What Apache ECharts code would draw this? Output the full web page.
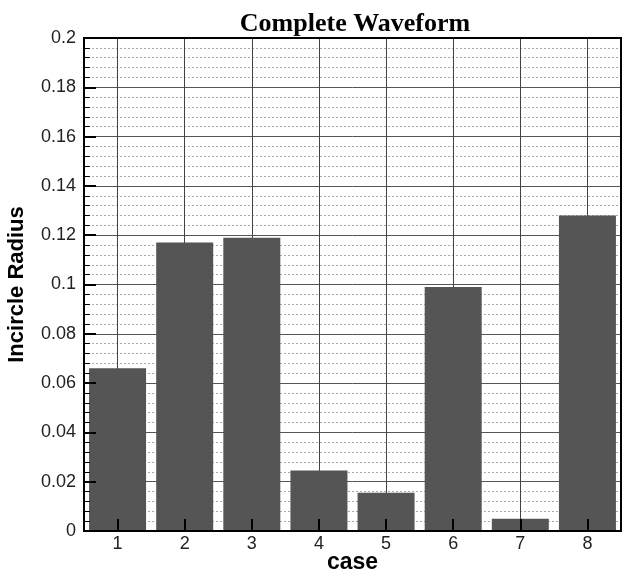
<!DOCTYPE html>
<html>
<head>
<meta charset="utf-8">
<script src="https://cdn.jsdelivr.net/npm/echarts@6/dist/echarts.min.js"></script>
<style>html,body{margin:0;padding:0;background:#fff;}#c{width:623px;height:575px;}</style>
</head>
<body>
<div id="c"></div>
<script>
var categories = ['1','2','3','4','5','6','7','8'];
var values = [0.066, 0.117, 0.119, 0.0245, 0.0155, 0.099, 0.005, 0.128];
var yTicks = {min: 0, max: 0.2, interval: 0.02};
var titleText = 'Complete Waveform';
var xName = 'case';
var yName = 'Incircle Radius';

var labelFont = {fontFamily: 'Liberation Sans', fontSize: 18, color: '#222'};

var chart = echarts.init(document.getElementById('c'));
chart.setOption({
  animation: false,
  backgroundColor: '#fff',
  title: {
    text: titleText,
    left: 350, top: 6,
    textAlign: 'center',
    textStyle: {fontFamily: 'Liberation Serif', fontWeight: 'bold', fontSize: 26, color: '#000'}
  },
  grid: {left: 84, right: 2, top: 38, bottom: 44, outerBoundsMode: 'none', containLabel: false,
         show: true, borderColor: '#000', borderWidth: 2, backgroundColor: 'transparent', z: 12},
  xAxis: [{
    type: 'category',
    data: categories,
    position: 'bottom',
    axisLine: {show: false},
    axisTick: {show: false},
    axisLabel: {show: false},
    splitLine: {show: false},
    z: 0
  }, {
    type: 'category',
    data: categories,
    position: 'bottom',
    name: xName,
    nameLocation: 'middle',
    nameGap: 20,
    nameMoveOverlap: false,
    nameTextStyle: {fontFamily: 'Liberation Sans', fontWeight: 'bold', fontSize: 23, color: '#000'},
    axisLine: {show: true, lineStyle: {color: '#000', width: 2}},
    axisTick: {show: true, inside: true, alignWithLabel: true, length: 12, lineStyle: {color: '#000', width: 2}},
    axisLabel: Object.assign({margin: 4}, labelFont),
    splitLine: {show: false},
    z: 10
  }],
  yAxis: [{
    type: 'value',
    position: 'left',
    min: yTicks.min, max: yTicks.max, interval: yTicks.interval,
    axisLine: {show: false},
    axisTick: {show: false},
    axisLabel: {show: false},
    minorTick: {show: false, splitNumber: 5},
    splitLine: {show: true, lineStyle: {color: '#555', width: 1}},
    minorSplitLine: {show: true, lineStyle: {color: '#aaa', width: 1, type: [2, 2]}},
    z: 0
  }, {
    type: 'value',
    position: 'left',
    min: yTicks.min, max: yTicks.max, interval: yTicks.interval,
    name: yName,
    nameLocation: 'middle',
    nameGap: 56,
    nameMoveOverlap: false,
    nameTextStyle: {fontFamily: 'Liberation Sans', fontWeight: 'bold', fontSize: 22, color: '#000'},
    axisLine: {show: true, lineStyle: {color: '#000', width: 2}},
    axisTick: {show: true, inside: true, length: 12, lineStyle: {color: '#000', width: 2}},
    minorTick: {show: true, splitNumber: 5, length: 6, lineStyle: {color: '#000', width: 1}},
    axisLabel: Object.assign({margin: 8}, labelFont),
    splitLine: {show: false},
    minorSplitLine: {show: false},
    z: 10
  }],
  series: [{
    type: 'bar',
    xAxisIndex: 0,
    yAxisIndex: 0,
    data: values,
    barWidth: 57,
    itemStyle: {color: '#555555'},
    z: 2,
    markLine: {
      silent: true,
      z: 1,
      symbol: ['none', 'none'],
      label: {show: false},
      lineStyle: {type: 'solid', color: '#444', width: 1},
      data: categories.map(function (c) { return {xAxis: c}; })
    }
  }]
});
</script>
</body>
</html>
